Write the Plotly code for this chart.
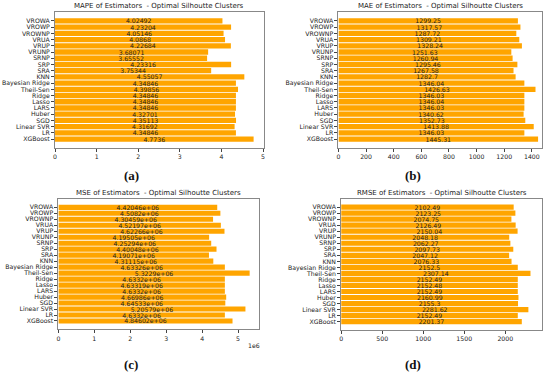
import plotly.graph_objects as go

# Categories listed bottom to top (as drawn)
estimators = ["XGBoost", "LR", "Linear SVR", "SGD", "Huber", "LARS", "Lasso", "Ridge",
              "Theil-Sen", "Bayesian Ridge", "KNN", "SRA", "SRP", "SRNP", "VRUNP",
              "VRUP", "VRUA", "VROWNP", "VROWP", "VROWA"]

mape = [4.7736, 4.34846, 4.31692, 4.35113, 4.32701, 4.34846, 4.34846, 4.34846,
        4.39856, 4.34846, 4.55057, 3.75344, 4.23316, 3.65552, 3.68071,
        4.22684, 4.0868, 4.05146, 4.23204, 4.02492]
mae = [1445.31, 1346.03, 1413.88, 1352.73, 1340.62, 1346.03, 1346.04, 1346.03,
       1426.63, 1346.04, 1282.7, 1267.58, 1295.46, 1260.94, 1251.63,
       1328.24, 1309.21, 1287.72, 1317.57, 1299.25]
mse = [4.84602e6, 4.6332e6, 5.20579e6, 4.64533e6, 4.66986e6, 4.6332e6, 4.63319e6, 4.6332e6,
       5.3229e6, 4.63326e6, 4.31115e6, 4.19071e6, 4.40048e6, 4.25294e6, 4.19505e6,
       4.62266e6, 4.52197e6, 4.30459e6, 4.5082e6, 4.42046e6]
rmse = [2201.37, 2152.49, 2281.62, 2155.3, 2160.99, 2152.49, 2152.48, 2152.49,
        2307.14, 2152.5, 2076.33, 2047.12, 2097.73, 2062.27, 2048.18,
        2150.04, 2126.49, 2074.75, 2123.25, 2102.49]

titles = ["MAPE of Estimators  - Optimal Silhoutte Clusters",
          "MAE of Estimators  - Optimal Silhoutte Clusters",
          "MSE of Estimators  - Optimal Silhoutte Clusters",
          "RMSE of Estimators  - Optimal Silhoutte Clusters"]
panel_labels = ["(a)", "(b)", "(c)", "(d)"]

W, H = 550, 372
def dx(a, b):
    return [a / W, b / W]
def dy(top, bottom):
    return [1 - bottom / H, 1 - top / H]

panels = [
    dict(vals=mape, xd=dx(53.3, 263.3), yd=dy(12.3, 147.7), xr=[0, 5.02],
         tickvals=[0, 1, 2, 3, 4, 5], ticktext=["0", "1", "2", "3", "4", "5"], ty=6, ly=175, lx=130),
    dict(vals=mae, xd=dx(338.3, 543), yd=dy(12.3, 147.7), xr=[0, 1474],
         tickvals=[0, 200, 400, 600, 800, 1000, 1200, 1400],
         ticktext=["0", "200", "400", "600", "800", "1000", "1200", "1400"], ty=6, ly=175, lx=413),
    dict(vals=mse, xd=dx(56.7, 258.3), yd=dy(199, 329.3), xr=[0, 5.58e6],
         tickvals=[0, 1e6, 2e6, 3e6, 4e6, 5e6], ticktext=["0", "1", "2", "3", "4", "5"], ty=193, ly=364, lx=130),
    dict(vals=rmse, xd=dx(341, 543), yd=dy(198.7, 330), xr=[0, 2448],
         tickvals=[0, 500, 1000, 1500, 2000], ticktext=["0", "500", "1000", "1500", "2000"], ty=193, ly=364, lx=413),
]

fig = go.Figure()
tick_font = dict(family="DejaVu Sans", size=6.2, color="#222")
annotations = []
for i, p in enumerate(panels):
    n = "" if i == 0 else str(i + 1)
    fig.add_trace(go.Bar(
        x=p["vals"], y=estimators, orientation="h",
        marker=dict(color="#FFA500", line=dict(width=0)),
        text=[f"{v:g}" for v in p["vals"]],
        textposition="inside", insidetextanchor="middle",
        textfont=dict(family="DejaVu Sans", size=6.2, color="#222"),
        textangle=0, cliponaxis=False,
        xaxis="x" + n, yaxis="y" + n, showlegend=False,
    ))
    fig.layout["xaxis" + n] = dict(
        domain=p["xd"], anchor="y" + n, range=p["xr"], tickmode="array",
        tickvals=p["tickvals"], ticktext=p["ticktext"],
        showgrid=False, zeroline=False, showline=True, linecolor="#888", linewidth=1, mirror=True,
        ticks="outside", ticklen=3, tickcolor="#444", tickfont=tick_font, fixedrange=True)
    fig.layout["yaxis" + n] = dict(
        domain=p["yd"], anchor="x" + n, type="category", range=[-1.39, 20.39],
        tickmode="array", tickvals=estimators, ticktext=estimators,
        showgrid=False, zeroline=False, showline=True, linecolor="#888", linewidth=1, mirror=True,
        ticks="outside", ticklen=3, tickcolor="#444", tickfont=tick_font, fixedrange=True)
    cx = (p["xd"][0] + p["xd"][1]) / 2
    annotations.append(dict(text=titles[i], x=cx, y=1 - p["ty"] / H, xref="paper", yref="paper",
                            showarrow=False, xanchor="center", yanchor="middle",
                            font=dict(family="DejaVu Sans", size=7, color="#222")))
    annotations.append(dict(text="<b>" + panel_labels[i] + "</b>", x=p["lx"] / W, y=1 - p["ly"] / H,
                            xref="paper", yref="paper", showarrow=False, xanchor="center", yanchor="middle",
                            font=dict(family="Liberation Serif", size=13, color="#111")))

annotations.append(dict(text="1e6", x=253 / W, y=1 - 345 / H, xref="paper", yref="paper",
                        showarrow=False, xanchor="center", yanchor="middle", font=tick_font))

fig.update_layout(width=W, height=H, margin=dict(l=0, r=0, t=0, b=0),
                  paper_bgcolor="white", plot_bgcolor="white", bargap=0.14,
                  annotations=annotations, uniformtext=dict(minsize=5, mode="show"))

fig.write_html("out.html", config={"displayModeBar": False, "staticPlot": True},
               post_script="document.body.style.margin='0';document.body.style.padding='0';")
